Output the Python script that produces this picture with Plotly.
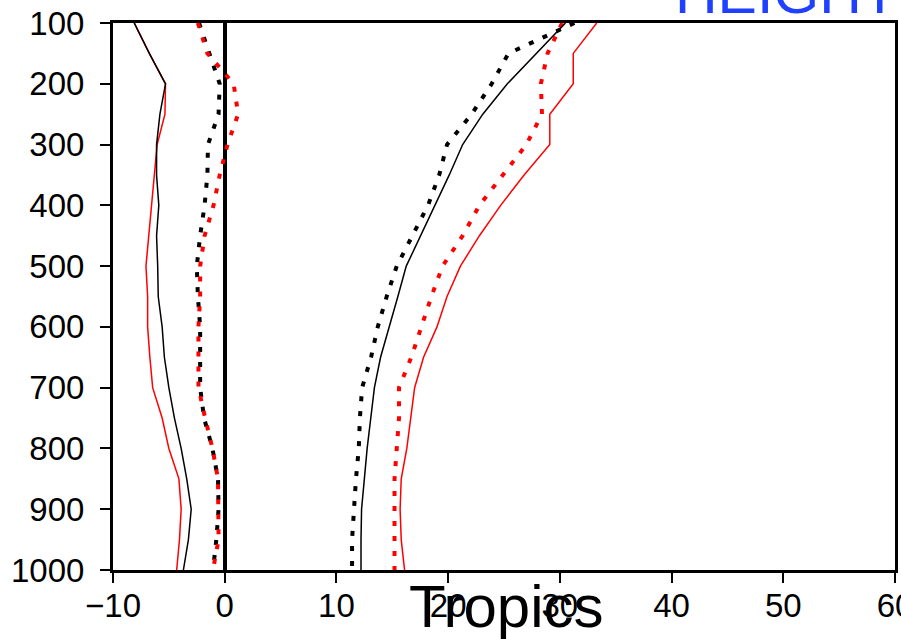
import plotly.graph_objects as go

# Pressure levels (hPa)
levels = [100, 150, 200, 250, 300, 350, 400, 450, 500, 550,
          600, 650, 700, 750, 800, 850, 900, 950, 1000]

# Right-hand group
red_solid_right = [33.3, 31.2, 31.2, 29.1, 29.1, 26.8, 24.7, 22.8, 21.1, 19.9,
                   19.0, 17.8, 17.0, 16.65, 16.3, 15.8, 15.7, 15.8, 16.1]
black_solid_right = [30.5, 27.9, 25.3, 23.1, 21.3, 20.1, 18.8, 17.5, 16.25, 15.5,
                     14.7, 13.95, 13.4, 13.05, 12.75, 12.5, 12.25, 12.2, 12.2]
black_dot_right = [31.3, 25.4, 23.9, 22.1, 19.9, 19.2, 18.2, 16.8, 15.4, 14.5,
                   13.7, 13.1, 12.3, 12.1, 12.0, 11.75, 11.6, 11.4, 11.4]
red_dot_right = [30.2, 28.9, 28.3, 28.4, 27.0, 24.9, 22.8, 21.3, 19.5, 18.5,
                 17.6, 16.7, 15.6, 15.6, 15.4, 15.2, 15.2, 15.2, 15.2]

# Left-hand group
red_solid_left = [-8.1, -6.75, -5.3, -5.35, -6.05, -6.3, -6.6, -6.8, -7.05, -6.9,
                  -6.9, -6.7, -6.45, -5.6, -5.0, -4.1, -3.9, -4.05, -4.3]
black_solid_left = [-8.1, -6.75, -5.3, -5.8, -6.1, -6.1, -5.9, -6.1, -6.0, -5.95,
                    -5.6, -5.4, -5.0, -4.5, -3.9, -3.4, -3.0, -3.25, -3.7]
black_dot_left = [-2.3, -1.4, -0.45, -0.55, -1.5, -1.55, -1.8, -2.2, -2.5, -2.4,
                  -2.2, -2.2, -2.2, -1.85, -1.1, -0.6, -0.55, -0.75, -1.05]
red_dot_left = [-2.4, -1.55, 0.8, 1.2, 0.25, -0.45, -1.0, -1.8, -2.2, -2.2,
                -2.35, -2.35, -2.35, -1.75, -1.1, -0.6, -0.55, -0.55, -1.05]

x_ticks = [-10, 0, 10, 20, 30, 40, 50, 60]
y_ticks = [100, 200, 300, 400, 500, 600, 700, 800, 900, 1000]

title_text = "HEIGHT"
region_text = "Tropics"

RED = "#ff0000"
BLACK = "#000000"
DOT = "5px,10px"

fig = go.Figure()

series = [
    (black_dot_left, BLACK, 4, DOT),
    (red_dot_left, RED, 4, DOT),
    (black_dot_right, BLACK, 4, DOT),
    (red_dot_right, RED, 4, DOT),
    (red_solid_left, RED, 1.5, "solid"),
    (black_solid_left, BLACK, 1.5, "solid"),
    (red_solid_right, RED, 1.5, "solid"),
    (black_solid_right, BLACK, 1.5, "solid"),
]
for xs, col, w, dash in series:
    fig.add_trace(go.Scatter(x=xs, y=levels, mode="lines",
                             line=dict(color=col, width=w, dash=dash),
                             showlegend=False, hoverinfo="skip"))

tickfont = dict(family="Liberation Sans, Arial, sans-serif", size=33, color="black")

fig.update_layout(
    width=901, height=639,
    margin=dict(l=113, r=6, t=23, b=69, autoexpand=False),
    paper_bgcolor="white", plot_bgcolor="white",
    xaxis=dict(range=[-10, 60], tickvals=x_ticks, ticks="outside", ticklen=10,
               tickwidth=2, tickcolor="black", showgrid=False,
               zeroline=True, zerolinecolor="black", zerolinewidth=4,
               showline=True, linecolor="black", linewidth=3, mirror=True,
               tickfont=tickfont, ticklabelstandoff=-6, ticklabeloverflow="allow",
               automargin=False),
    yaxis=dict(range=[1000, 100], tickvals=y_ticks, ticks="outside", ticklen=10,
               tickwidth=2, tickcolor="black", showgrid=False, zeroline=False,
               showline=True, linecolor="black", linewidth=3, mirror=True,
               tickfont=tickfont, ticklabelstandoff=9, ticklabeloverflow="allow",
               automargin=False),
    annotations=[
        dict(text=region_text, xref="paper", yref="paper", x=0.503, y=-0.066,
             xanchor="center", yanchor="middle", showarrow=False,
             font=dict(family="Liberation Sans, Arial, sans-serif", size=60, color="black")),
        dict(text=title_text, xref="paper", yref="paper", x=1.006, y=1.055,
             xanchor="right", yanchor="middle", showarrow=False,
             font=dict(family="Liberation Sans, Arial, sans-serif", size=59, color="#2040ff")),
    ],
)

fig.write_html("out.html")
